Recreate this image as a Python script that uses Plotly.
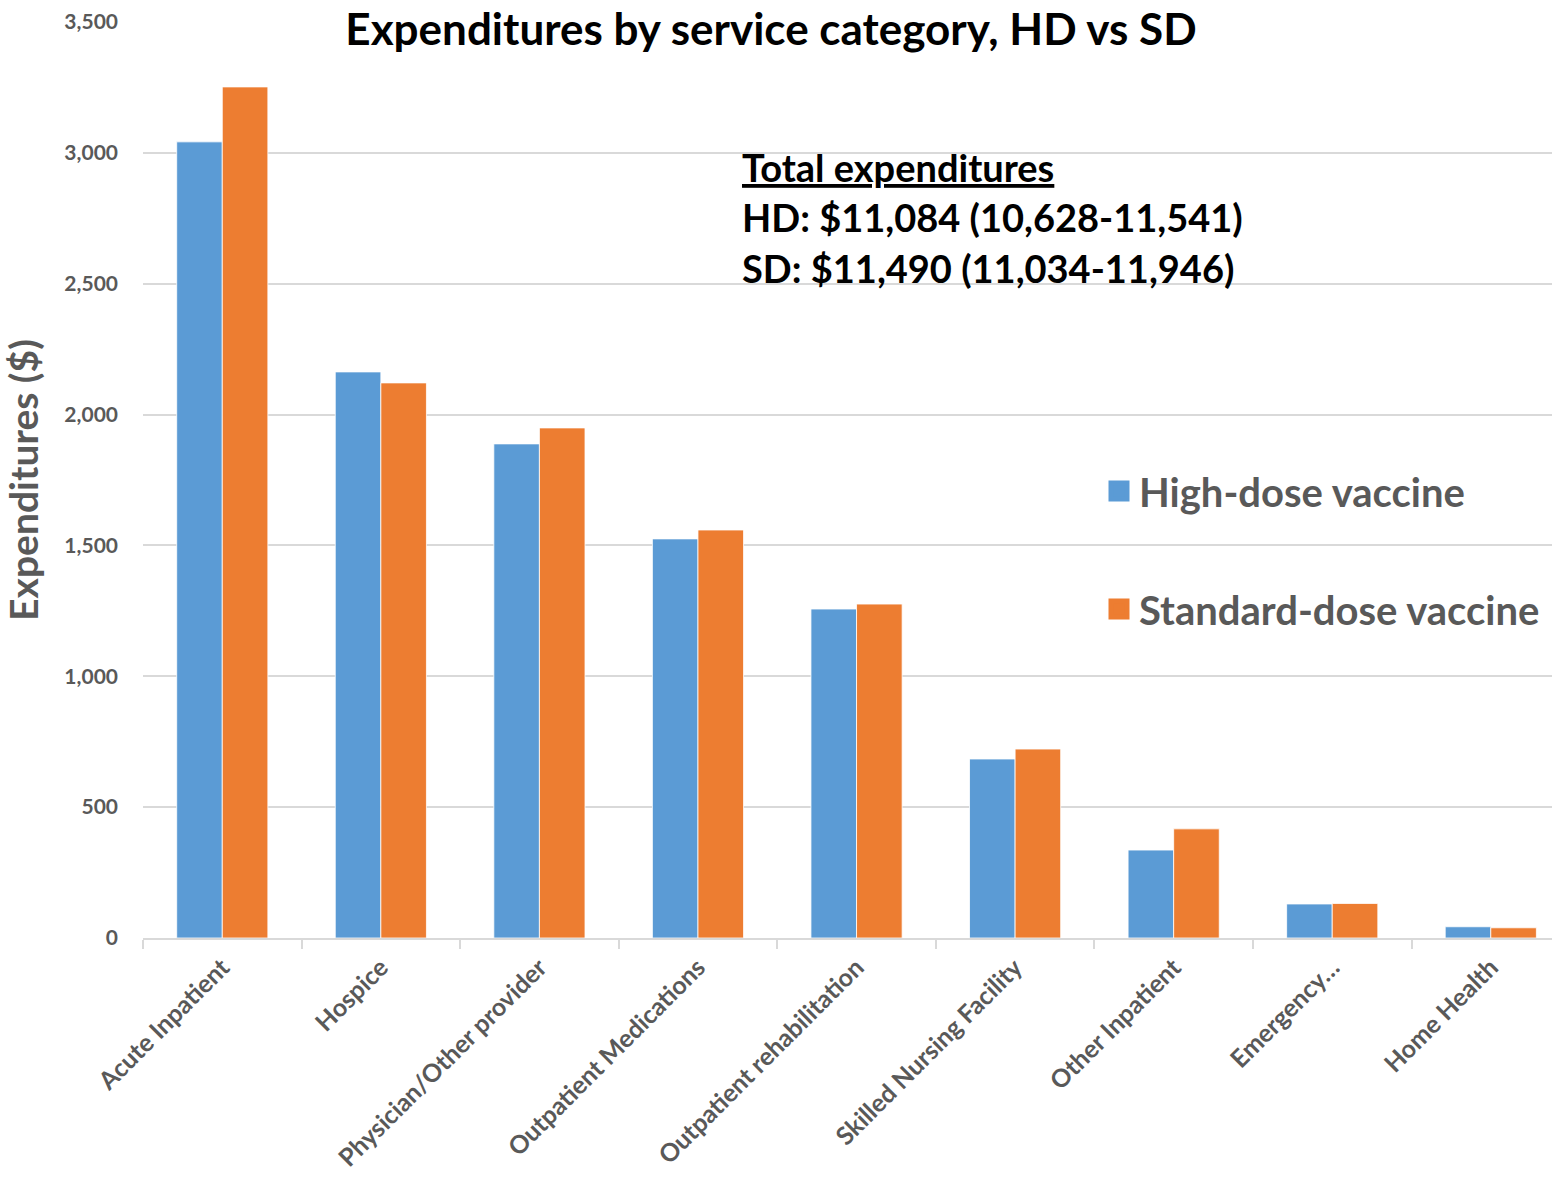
import plotly.graph_objects as go

categories = [
    "Acute Inpatient", "Hospice", "Physician/Other provider",
    "Outpatient Medications", "Outpatient rehabilitation",
    "Skilled Nursing Facility", "Other Inpatient", "Emergency…", "Home Health",
]
high_dose = [3042, 2163, 1888, 1525, 1257, 684, 336, 130, 43]
standard_dose = [3252, 2121, 1949, 1559, 1276, 722, 417, 132, 39]
series_names = ["High-dose vaccine", "Standard-dose vaccine"]
series_colors = ["#5B9BD5", "#ED7D31"]
y_ticks = [0, 500, 1000, 1500, 2000, 2500, 3000, 3500]
total_lines = [
    "<u>Total expenditures</u>",
    "HD: $11,084 (10,628-11,541)",
    "SD: $11,490 (11,034-11,946)",
]

FONT = "Lato"
GRAY = "#595959"
W, H = 1552, 1183
L, R, T, B = 143, 0, 22, 245

fig = go.Figure()
for name, vals, color, grp in zip(series_names, [high_dose, standard_dose],
                                  series_colors, ["hd", "sd"]):
    fig.add_trace(go.Bar(
        x=categories, y=vals, name=name, legendgroup=grp, showlegend=False,
        marker=dict(color=color, line=dict(color="#ffffff", width=0.8)),
    ))

# Legend entries with larger square swatches, one legend box per series
for name, color, grp, leg in zip(series_names, series_colors, ["hd", "sd"],
                                 ["legend", "legend2"]):
    fig.add_trace(go.Scatter(
        x=[None], y=[None], mode="markers", name=name, legendgroup=grp,
        marker=dict(symbol="square", size=16, color=color,
                    line=dict(color=color, width=5)),
        legend=leg, hoverinfo="skip",
    ))

def px_x(px):
    return (px - L) / (W - L - R)

def px_y(py):
    return 1 - (py - T) / (H - T - B)

legend_style = dict(
    font=dict(family=FONT, size=40, color=GRAY, weight="bold"),
    xanchor="left", yanchor="middle", bgcolor="rgba(0,0,0,0)",
    itemsizing="trace",
)

fig.update_layout(
    width=W, height=H,
    margin=dict(l=L, r=R, t=T, b=B, pad=0),
    paper_bgcolor="white", plot_bgcolor="white",
    barmode="group", bargap=0.425, bargroupgap=0,
    showlegend=True,
    font=dict(family=FONT, color=GRAY),
    title=dict(
        text="<b>Expenditures by service category, HD vs SD</b>",
        font=dict(family=FONT, size=44, color="black"),
        x=771 / W, xanchor="center", xref="container",
        y=1 - 30 / H, yanchor="middle", yref="container",
    ),
    legend=dict(x=px_x(1099), y=px_y(491), **legend_style),
    legend2=dict(x=px_x(1099), y=px_y(609), **legend_style),
    xaxis=dict(
        range=[-0.5, 8.386],
        automargin=False,
        tickangle=-45,
        tickfont=dict(family=FONT, size=25, color=GRAY, weight="bold"),
        ticklabelstandoff=3,
        showgrid=False,
        showline=True, linecolor="#d9d9d9", linewidth=2,
        ticks="outside", tickson="boundaries", ticklen=9, tickwidth=2,
        tickcolor="#d9d9d9",
    ),
    yaxis=dict(
        range=[0, 3500],
        automargin=False,
        tickvals=y_ticks,
        tickformat=",d",
        tickfont=dict(family=FONT, size=21, color=GRAY, weight="bold"),
        ticklabelstandoff=24,
        showgrid=True, gridcolor="#d9d9d9", gridwidth=1.5,
        zeroline=False, showline=False,
        title=dict(
            text="Expenditures ($)",
            font=dict(family=FONT, size=39, color=GRAY, weight="bold"),
            standoff=14,
        ),
    ),
)

line_centers = [167, 217, 268]
for text, cy in zip(total_lines, line_centers):
    fig.add_annotation(
        text=text, xref="paper", yref="paper",
        x=px_x(740), y=px_y(cy), xanchor="left", yanchor="middle",
        showarrow=False,
        font=dict(family=FONT, size=38, color="black", weight="bold"),
    )

fig.write_html("out.html")
